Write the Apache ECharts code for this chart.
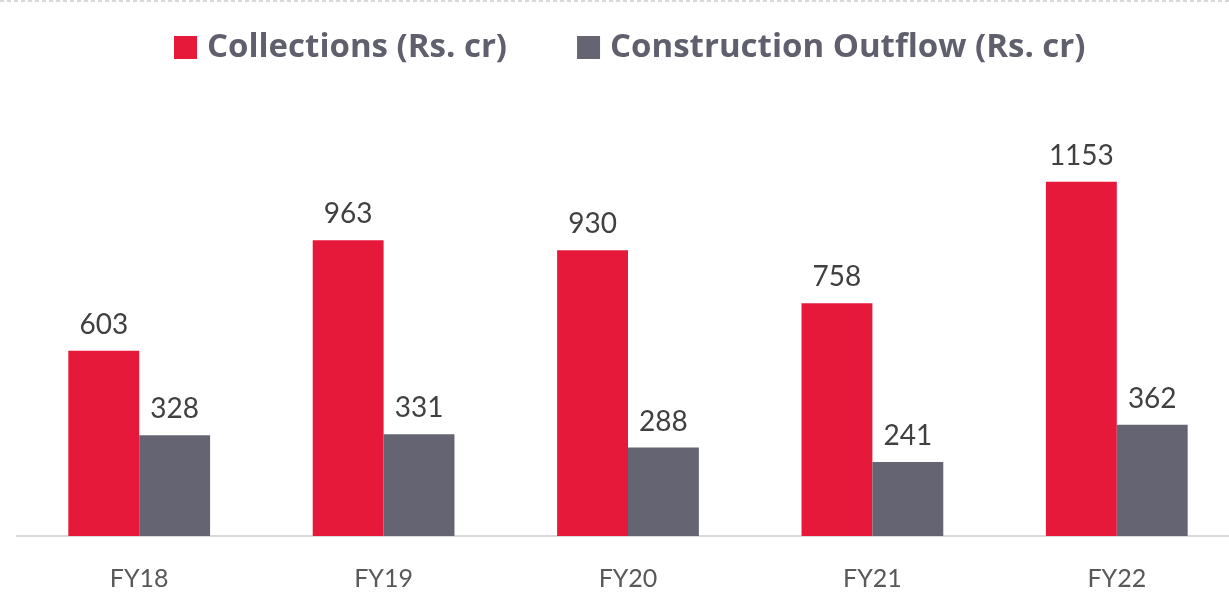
<!DOCTYPE html>
<html>
<head>
<meta charset="utf-8">
<script src="https://cdn.jsdelivr.net/npm/echarts@6/dist/echarts.min.js"></script>
<style>html,body{margin:0;padding:0;background:#fff;overflow:hidden}#c{width:1240px;height:598px}</style>
</head>
<body>
<div id="c"></div>
<script>
var categories = ['FY18', 'FY19', 'FY20', 'FY21', 'FY22'];
var collections = [603, 963, 930, 758, 1153];
var outflow = [328, 331, 288, 241, 362];
var seriesNames = ['Collections (Rs. cr)', 'Construction Outflow (Rs. cr)'];

var chart = echarts.init(document.getElementById('c'));
var labelStyle = {show: true, position: 'top', distance: 12, color: '#404040', fontSize: 28, fontFamily: 'Lato'};
chart.setOption({
  animation: false,
  graphic: [{
    type: 'line', shape: {x1: 0, y1: 1, x2: 1229, y2: 1},
    style: {stroke: '#b0b0b0', lineWidth: 1, lineDash: [4, 3]}
  }],
  legend: {
    top: 31, left: 174, padding: 0,
    itemWidth: 23, itemHeight: 23, itemGap: 70,
    icon: 'rect',
    textStyle: {fontFamily: 'Open Sans', fontWeight: 'bold', fontSize: 33, color: '#5f5f6e', padding: [0, 0, 0, 5]},
    data: seriesNames
  },
  grid: {left: 17, width: 1222, top: 106, bottom: 62},
  xAxis: {
    type: 'category', data: categories,
    axisLine: {lineStyle: {color: '#d9d9d9', width: 2}},
    axisTick: {show: false},
    axisLabel: {color: '#595959', fontSize: 25, fontFamily: 'Lato', margin: 30}
  },
  yAxis: {type: 'value', min: 0, max: 1400, show: false, splitLine: {show: false}},
  series: [
    {name: seriesNames[0], type: 'bar', data: collections, barWidth: '29%', barGap: '0%',
     itemStyle: {color: '#e6193a'}, label: labelStyle},
    {name: seriesNames[1], type: 'bar', data: outflow, barWidth: '29%', barGap: '0%',
     itemStyle: {color: '#646473'}, label: labelStyle}
  ]
});
</script>
</body>
</html>
